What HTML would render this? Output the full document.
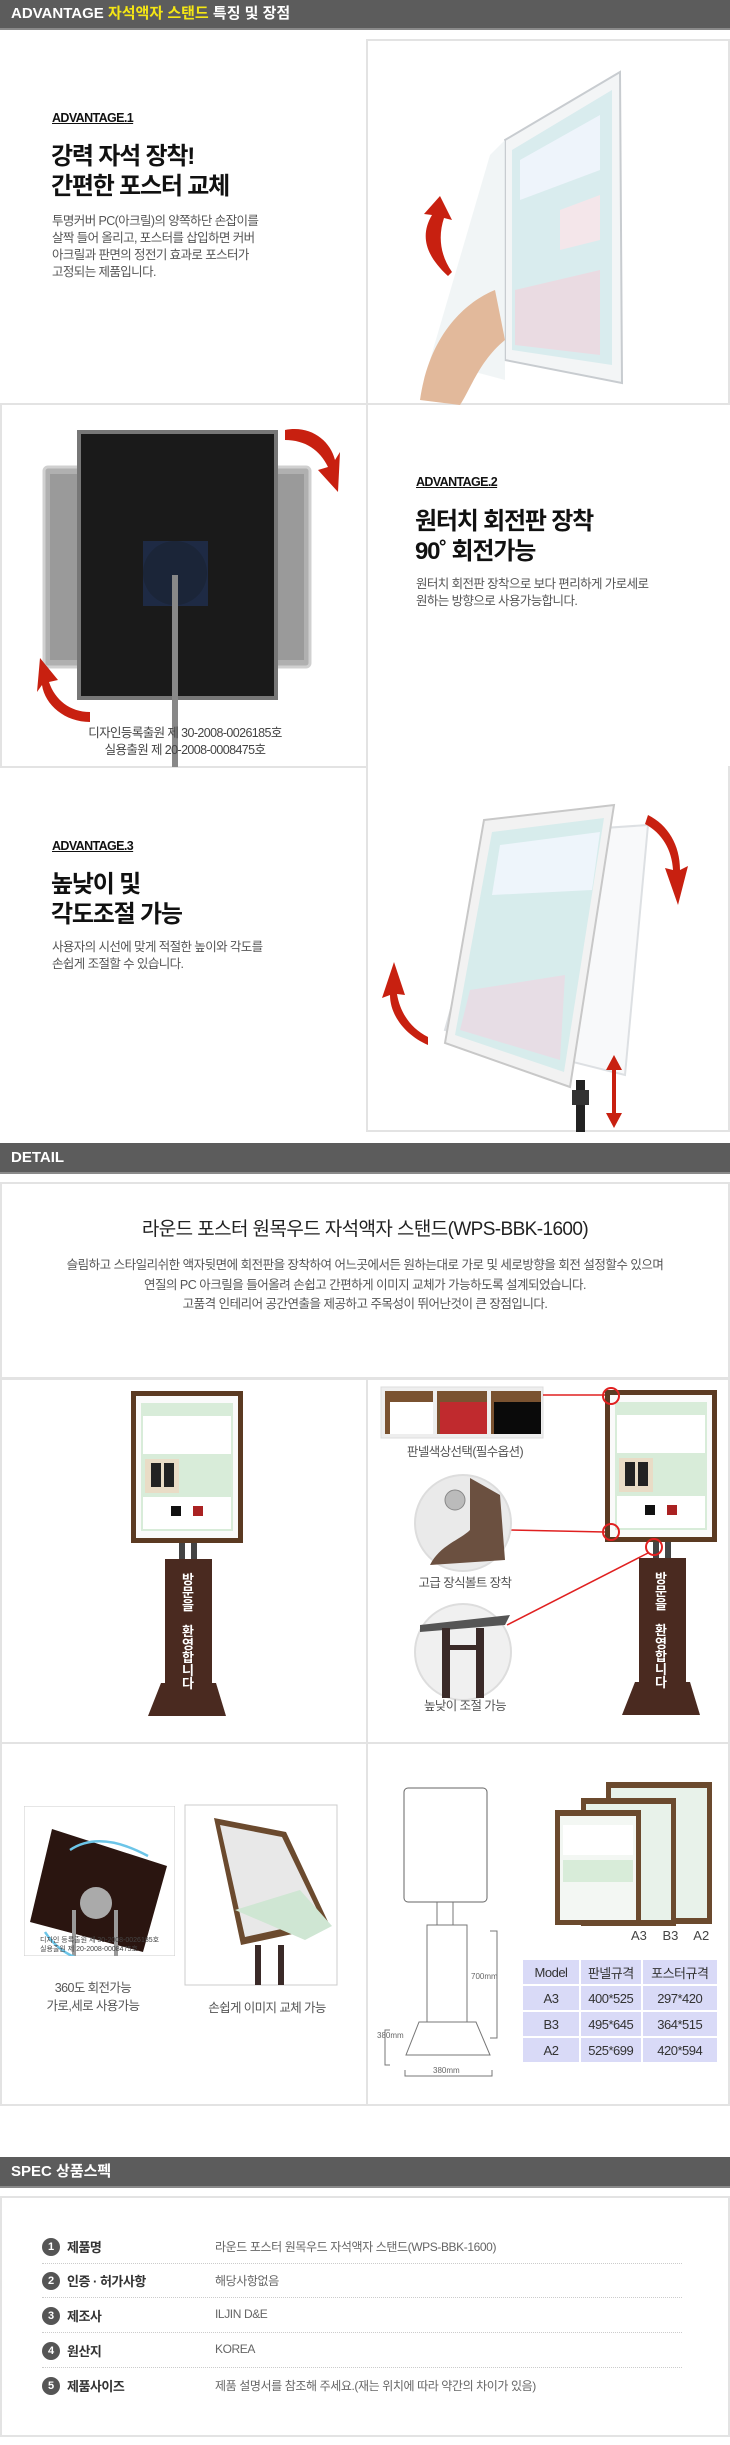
<!DOCTYPE html>
<html><head><meta charset="utf-8">
<style>
*{margin:0;padding:0;box-sizing:border-box}
body{width:730px;height:2445px;position:relative;background:#fff;font-family:"Liberation Sans","Noto Sans CJK KR",sans-serif;overflow:hidden;color:#222}
.a{position:absolute}
.bar{position:absolute;left:0;width:730px;background:#5c5c5c;border-bottom:2px solid #8a8a8a;color:#fff;font-weight:bold;font-size:15px;padding-left:11px}
.box{position:absolute;border:2px solid #e3e3e3}
.adv{position:absolute;font-weight:bold;font-size:12.5px;letter-spacing:-0.6px;text-decoration:underline;color:#111}
.tt{position:absolute;font-weight:bold;font-size:24px;line-height:30px;letter-spacing:-1.2px;color:#111}
.bd{position:absolute;font-size:12.5px;line-height:17px;letter-spacing:-0.6px;color:#555}
.cap{position:absolute;font-size:12.5px;color:#555;letter-spacing:-0.6px;text-align:center;line-height:18px}
.vt{position:absolute;color:#fff;font-size:13px;line-height:13px;text-align:center;width:20px;font-weight:bold}
table.t{position:absolute;border-collapse:separate;border-spacing:2px;font-size:13px;color:#333;letter-spacing:-0.5px}
table.t td{background:#d9daf7;text-align:center;height:24px}
.sp{position:absolute;left:42px;width:640px;height:34px;border-bottom:1px dotted #ccc}
.sp .n{position:absolute;left:0;top:8px;width:18px;height:18px;border-radius:50%;background:#555;color:#fff;font-size:11px;font-weight:bold;text-align:center;line-height:18px}
.sp .l{position:absolute;left:25px;top:7px;font-size:13px;font-weight:bold;color:#333;letter-spacing:-0.5px}
.sp .v{position:absolute;left:173px;top:8px;font-size:12px;color:#666;letter-spacing:-0.4px}
</style></head><body>

<div class="bar" style="top:0;height:30px;line-height:28px">ADVANTAGE <span style="color:#f5e614">자석액자 스탠드</span> 특징 및 장점</div>

<div class="box" style="left:366px;top:39px;width:364px;height:366px"></div>
<div class="box" style="left:0;top:403px;width:368px;height:365px"></div>
<div class="box" style="left:366px;top:766px;width:364px;height:366px;border-top:none"></div>

<svg class="a" style="left:0;top:0" width="730" height="1140">
 <polygon points="505,140 620,72 622,383 505,360" fill="#f3f5f6" stroke="#c8ccd0" stroke-width="2"/>
 <polygon points="512,150 612,90 612,365 512,350" fill="#d9ecee"/>
 <polygon points="520,160 600,115 600,170 520,200" fill="#eef4fb"/>
 <polygon points="560,210 600,195 600,240 560,250" fill="#f4e6ea"/>
 <polygon points="515,290 600,270 600,355 515,345" fill="#eadbe2"/>
 <polygon points="490,155 505,140 505,380 430,360" fill="#eef2f4" opacity="0.8"/>
 <path d="M420,400 C430,330 470,300 495,290 L505,340 C480,360 470,390 460,405 Z" fill="#e2b99b"/>
 <path d="M448,276 C425,255 420,235 432,215 L424,214 L440,196 L452,220 L444,218 C438,236 440,255 452,272 Z" fill="#c82010"/>
 <rect x="44" y="467" width="266" height="200" rx="4" fill="#b0b0b0" stroke="#d0d0d0" stroke-width="3"/>
 <rect x="50" y="474" width="254" height="186" fill="#9a9a9a"/>
 <rect x="79" y="432" width="197" height="266" fill="#1a1a1a" stroke="#777" stroke-width="4"/>
 <rect x="143" y="541" width="65" height="65" fill="#1e2a44"/>
 <circle cx="175" cy="573" r="32" fill="#1b2538"/>
 <rect x="172" y="575" width="6" height="192" fill="#888"/>
 <path d="M285,430 C310,425 330,440 335,460 L340,452 L338,492 L318,470 L328,467 C320,450 305,440 285,440 Z" fill="#c82010"/>
 <path d="M90,722 C65,722 45,705 42,685 L37,692 L40,658 L58,680 L49,682 C55,700 70,712 90,712 Z" fill="#c82010"/>
 <polygon points="500,835 648,825 625,1075 445,1030" fill="#f6f7f8" stroke="#d0d4d8" stroke-width="2" opacity="0.7"/>
 <polygon points="484,820 614,805 570,1087 445,1043" fill="#f2f2f2" stroke="#c8c8c8" stroke-width="2"/>
 <polygon points="492,832 604,818 564,1072 455,1035" fill="#d7ecec"/>
 <polygon points="500,845 600,832 592,890 492,895" fill="#eef5fb"/>
 <polygon points="470,990 565,975 560,1060 460,1030" fill="#e7dde5"/>
 <rect x="576" y="1080" width="9" height="52" fill="#222"/>
 <rect x="572" y="1090" width="17" height="15" fill="#333"/>
 <path d="M648,815 C668,825 680,845 680,870 L688,866 L678,905 L665,868 L673,870 C672,850 662,833 645,824 Z" fill="#c82010"/>
 <path d="M428,1045 C405,1035 390,1015 390,995 L382,998 L394,962 L405,995 L397,994 C400,1012 410,1028 428,1037 Z" fill="#c82010"/>
 <rect x="612" y="1065" width="4" height="55" fill="#c82010"/>
 <polygon points="614,1055 606,1070 622,1070" fill="#c82010"/>
 <polygon points="614,1128 606,1113 622,1113" fill="#c82010"/>
</svg>

<div class="adv" style="left:52px;top:111px">ADVANTAGE.1</div>
<div class="tt" style="left:51px;top:142px">강력 자석 장착!<br>간편한 포스터 교체</div>
<div class="bd" style="left:52px;top:213px">투명커버 PC(아크릴)의 양쪽하단 손잡이를<br>살짝 들어 올리고, 포스터를 삽입하면 커버<br>아크릴과 판면의 정전기 효과로 포스터가<br>고정되는 제품입니다.</div>

<div class="cap" style="left:40px;top:725px;width:290px;line-height:17px;color:#444">디자인등록출원 제 30-2008-0026185호<br>실용출원 제 20-2008-0008475호</div>
<div class="adv" style="left:416px;top:475px">ADVANTAGE.2</div>
<div class="tt" style="left:415px;top:507px">원터치 회전판 장착<br>90˚ 회전가능</div>
<div class="bd" style="left:416px;top:576px">원터치 회전판 장착으로 보다 편리하게 가로세로<br>원하는 방향으로 사용가능합니다.</div>

<div class="adv" style="left:52px;top:839px">ADVANTAGE.3</div>
<div class="tt" style="left:51px;top:870px">높낮이 및<br>각도조절 가능</div>
<div class="bd" style="left:52px;top:939px">사용자의 시선에 맞게 적절한 높이와 각도를<br>손쉽게 조절할 수 있습니다.</div>

<div class="bar" style="top:1143px;height:31px;line-height:29px">DETAIL</div>
<div class="box" style="left:0;top:1182px;width:730px;height:198px"></div>
<div class="a" style="left:0;top:1214px;width:730px;text-align:center;font-size:19px;letter-spacing:-0.6px;color:#222">라운드 포스터 원목우드 자석액자 스탠드(WPS-BBK-1600)</div>
<div class="a" style="left:0;top:1256px;width:730px;text-align:center;font-size:12.5px;line-height:19.5px;letter-spacing:-0.5px;color:#555">슬림하고 스타일리쉬한 액자뒷면에 회전판을 장착하여 어느곳에서든 원하는대로 가로 및 세로방향을 회전 설정할수 있으며<br>연질의 PC 아크릴을 들어올려 손쉽고 간편하게 이미지 교체가 가능하도록 설계되었습니다.<br>고품격 인테리어 공간연출을 제공하고 주목성이 뛰어난것이 큰 장점입니다.</div>

<div class="box" style="left:0;top:1377px;width:368px;height:367px"></div>
<div class="box" style="left:366px;top:1377px;width:364px;height:367px"></div>
<div class="box" style="left:0;top:1742px;width:368px;height:364px"></div>
<div class="box" style="left:366px;top:1742px;width:364px;height:364px"></div>

<svg class="a" style="left:0;top:1370px" width="730" height="740">
 <defs>
  <g id="stand">
   <rect x="0" y="0" width="112" height="152" fill="#5b3a22"/>
   <rect x="5" y="5" width="102" height="142" fill="#fafafa"/>
   <rect x="10" y="12" width="92" height="128" fill="#d8ecd9"/>
   <rect x="12" y="25" width="88" height="38" fill="#fff"/>
   <rect x="14" y="68" width="34" height="34" fill="#e9dcc6"/>
   <rect x="20" y="72" width="10" height="24" fill="#222"/><rect x="33" y="72" width="10" height="24" fill="#222"/>
   <rect x="12" y="106" width="88" height="32" fill="#fff"/>
   <rect x="40" y="115" width="10" height="10" fill="#111"/><rect x="62" y="115" width="10" height="10" fill="#a22"/>
   <rect x="48" y="152" width="6" height="18" fill="#444"/><rect x="60" y="152" width="6" height="18" fill="#444"/>
   <rect x="34" y="168" width="47" height="128" fill="#4a2a20"/>
   <polygon points="30,292 85,292 95,325 17,325" fill="#4a2a20"/>
  </g>
 </defs>
 <use href="#stand" x="131" y="21"/>
 <use href="#stand" x="605" y="20"/>
 <rect x="381" y="17" width="162" height="51" fill="#eee" stroke="#ddd"/>
 <rect x="385" y="21" width="48" height="43" fill="#7a5230"/><rect x="390" y="32" width="43" height="32" fill="#fff"/>
 <rect x="437" y="21" width="50" height="43" fill="#7a5230"/><rect x="440" y="32" width="47" height="32" fill="#c02a2e"/>
 <rect x="491" y="21" width="50" height="43" fill="#7a5230"/><rect x="494" y="32" width="47" height="32" fill="#0a0a0a"/>
 <line x1="543" y1="25" x2="605" y2="25" stroke="#e02020" stroke-width="1.5"/>
 <circle cx="611" cy="26" r="8" fill="none" stroke="#e02020" stroke-width="2"/>
 <circle cx="611" cy="162" r="8" fill="none" stroke="#e02020" stroke-width="2"/>
 <circle cx="654" cy="177" r="8" fill="none" stroke="#e02020" stroke-width="2"/>
 <line x1="510" y1="160" x2="605" y2="162" stroke="#e02020" stroke-width="1.5"/>
 <line x1="507" y1="255" x2="648" y2="183" stroke="#e02020" stroke-width="1.5"/>
 <circle cx="463" cy="153" r="48" fill="#eaeaea" stroke="#ddd" stroke-width="2"/>
 <path d="M470,108 L500,125 L505,190 L430,195 C440,175 460,170 470,160 Z" fill="#6b5040"/>
 <circle cx="455" cy="130" r="10" fill="#bbb" stroke="#888"/>
 <circle cx="463" cy="282" r="48" fill="#f0f0f0" stroke="#ddd" stroke-width="2"/>
 <polygon points="420,255 510,245 505,255 420,262" fill="#555"/>
 <rect x="442" y="258" width="8" height="70" fill="#3a2a28"/><rect x="476" y="258" width="8" height="70" fill="#3a2a28"/>
 <rect x="445" y="275" width="36" height="5" fill="#3a2a28"/>
 <svg x="24" y="436" width="151" height="150" overflow="hidden">
  <rect x="0" y="0" width="151" height="150" fill="#fff" stroke="#ccc"/>
  <polygon points="28,23 143,60 119,146 6,116" fill="#2a1510"/>
  <circle cx="72" cy="97" r="16" fill="#aaa"/>
  <rect x="48" y="104" width="4" height="46" fill="#999"/><rect x="90" y="104" width="4" height="46" fill="#999"/>
  <path d="M46,44 Q76,24 124,50" fill="none" stroke="#6cc5e8" stroke-width="2.5"/>
  <path d="M21,126 Q46,164 104,156" fill="none" stroke="#6cc5e8" stroke-width="2.5"/>
 </svg>
 <rect x="185" y="435" width="152" height="180" fill="#fff" stroke="#ccc"/>
 <polygon points="214,448 286,462 330,556 241,575" fill="#6b4a2e"/>
 <polygon points="220,455 282,467 322,550 245,567" fill="#e8e8e8"/>
 <path d="M235,540 L300,520 L332,556 L305,570 Z" fill="#cfe6d3"/>
 <rect x="255" y="575" width="6" height="40" fill="#3a2a28"/><rect x="278" y="575" width="6" height="40" fill="#3a2a28"/>
 <rect x="404" y="418" width="83" height="114" rx="4" fill="#fff" stroke="#666"/>
 <rect x="427" y="555" width="40" height="113" fill="#fff" stroke="#777"/>
 <polygon points="419,652 476,652 490,685 406,685" fill="#fff" stroke="#777"/>
 <line x1="437" y1="532" x2="437" y2="555" stroke="#777"/><line x1="453" y1="532" x2="453" y2="555" stroke="#777"/>
 <polyline points="490,561 497,561 497,668 490,668" fill="none" stroke="#777"/>
 <polyline points="390,660 385,660 385,695 390,695" fill="none" stroke="#777"/>
 <polyline points="405,700 405,706 492,706 492,700" fill="none" stroke="#777"/>
 <rect x="606" y="412" width="106" height="142" fill="#6b4a2e"/><rect x="611" y="418" width="96" height="130" fill="#e8f2ea"/>
 <rect x="581" y="428" width="95" height="128" fill="#6b4a2e"/><rect x="586" y="434" width="85" height="116" fill="#e8f2ea"/>
 <rect x="555" y="440" width="86" height="115" fill="#6b4a2e"/><rect x="560" y="446" width="76" height="104" fill="#f3f7f3"/>
 <rect x="563" y="455" width="70" height="30" fill="#fff"/><rect x="563" y="490" width="70" height="22" fill="#d8ecd9"/>
</svg>

<div class="cap" style="left:375px;top:1443px;width:180px">판넬색상선택(필수옵션)</div>
<div class="cap" style="left:375px;top:1574px;width:180px">고급 장식볼트 장착</div>
<div class="cap" style="left:375px;top:1697px;width:180px">높낮이 조절 가능</div>
<div class="vt" style="left:178px;top:1573px">방<br>문<br>을<br><br>환<br>영<br>합<br>니<br>다</div>
<div class="vt" style="left:651px;top:1572px">방<br>문<br>을<br><br>환<br>영<br>합<br>니<br>다</div>

<div class="a" style="left:40px;top:1936px;font-size:7px;color:#444;line-height:9px">디자인 등록출원 제 30-2008-0026185호<br>실용출원 제 20-2008-0008475호</div>
<div class="cap" style="left:13px;top:1979px;width:160px">360도 회전가능<br>가로,세로 사용가능</div>
<div class="cap" style="left:187px;top:1999px;width:160px">손쉽게 이미지 교체 가능</div>
<div class="a" style="left:471px;top:1972px;font-size:8px;color:#666">700mm</div>
<div class="a" style="left:377px;top:2031px;font-size:8px;color:#666">380mm</div>
<div class="a" style="left:433px;top:2066px;font-size:8px;color:#666">380mm</div>
<div class="a" style="left:631px;top:1928px;font-size:13px;color:#444;word-spacing:12px">A3 B3 A2</div>
<table class="t" style="left:521px;top:1958px;width:198px">
<tr><td style="width:56px">Model</td><td>판넬규격</td><td>포스터규격</td></tr>
<tr><td>A3</td><td>400*525</td><td>297*420</td></tr>
<tr><td>B3</td><td>495*645</td><td>364*515</td></tr>
<tr><td>A2</td><td>525*699</td><td>420*594</td></tr>
</table>

<div class="bar" style="top:2157px;height:31px;line-height:29px">SPEC 상품스펙</div>
<div class="box" style="left:0;top:2196px;width:730px;height:241px"></div>
<div class="sp" style="top:2230px"><div class="n">1</div><div class="l">제품명</div><div class="v">라운드 포스터 원목우드 자석액자 스탠드(WPS-BBK-1600)</div></div>
<div class="sp" style="top:2264px"><div class="n">2</div><div class="l">인증 · 허가사항</div><div class="v">해당사항없음</div></div>
<div class="sp" style="top:2299px"><div class="n">3</div><div class="l">제조사</div><div class="v">ILJIN D&amp;E</div></div>
<div class="sp" style="top:2334px"><div class="n">4</div><div class="l">원산지</div><div class="v">KOREA</div></div>
<div class="sp" style="top:2369px;border-bottom:none"><div class="n">5</div><div class="l">제품사이즈</div><div class="v">제품 설명서를 참조해 주세요.(재는 위치에 따라 약간의 차이가 있음)</div></div>
</body></html>
